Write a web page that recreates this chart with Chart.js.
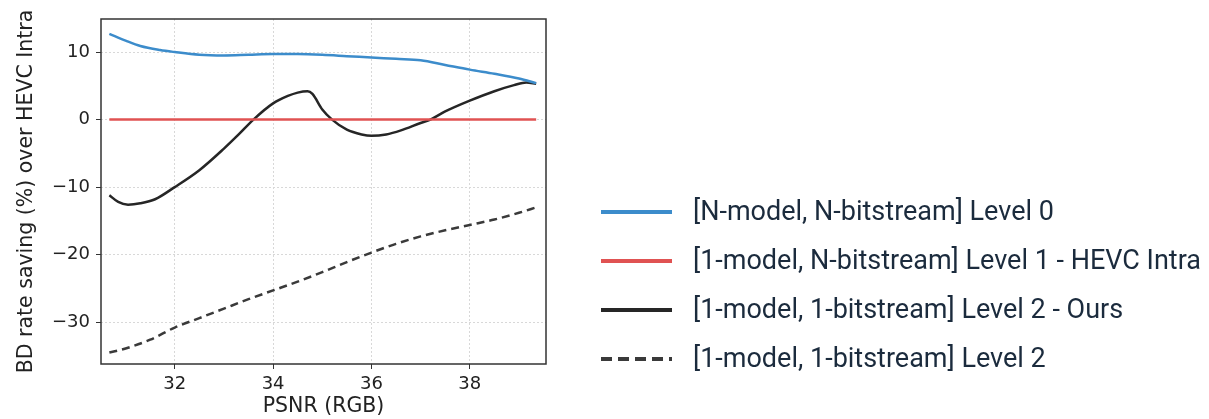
<!DOCTYPE html>
<html><head><meta charset="utf-8">
<script src="https://cdn.jsdelivr.net/npm/chart.js@4/dist/chart.umd.min.js"></script>
<style>html,body{margin:0;padding:0;background:#fff;}#wrap{width:1209px;height:419px;position:relative;}</style>
</head><body><div id="wrap"><canvas id="c" width="1209" height="419"></canvas></div>
<script>
const seriesLabels = [
  "[N-model, N-bitstream] Level 0",
  "[1-model, N-bitstream] Level 1 - HEVC Intra",
  "[1-model, 1-bitstream] Level 2 - Ours",
  "[1-model, 1-bitstream] Level 2"
];
const level0Psnr = [30.67,31.0,31.3,31.7,32.0,32.5,33.0,33.5,34.0,34.5,35.0,35.5,36.0,36.5,37.0,37.5,38.0,38.5,39.0,39.35];
const level0Vals = [12.7,11.7,10.9,10.3,10.0,9.6,9.5,9.6,9.7,9.7,9.6,9.4,9.2,9.0,8.8,8.1,7.4,6.8,6.1,5.4];
const level1Psnr = [30.67,39.35];
const level1Vals = [0,0];
const oursPsnr = [30.67,30.85,31.05,31.3,31.6,32.0,32.5,33.0,33.3,33.6,34.0,34.3,34.5,34.7,34.8,35.0,35.2,35.5,35.8,36.0,36.3,36.6,37.0,37.2,37.5,38.0,38.5,38.9,39.15,39.35];
const oursVals = [-11.2,-12.2,-12.6,-12.4,-11.8,-10.0,-7.5,-4.3,-2.2,0.0,2.4,3.5,4.0,4.2,3.8,1.5,0.0,-1.5,-2.2,-2.4,-2.2,-1.6,-0.5,0.0,1.2,2.8,4.2,5.1,5.5,5.3];
const level2Psnr = [30.67,31.0,31.5,32.0,32.5,33.0,33.5,34.0,34.5,35.0,35.5,36.0,36.5,37.0,37.5,38.0,38.5,39.0,39.35];
const level2Vals = [-34.5,-33.9,-32.6,-30.8,-29.4,-28.0,-26.6,-25.3,-24.0,-22.6,-21.1,-19.7,-18.4,-17.3,-16.4,-15.6,-14.8,-13.8,-13.0];
const xTicks = [32,34,36,38];
const yTicks = [-30,-20,-10,0,10];

const pts = (xs, ys) => xs.map((x,i)=>({x:x,y:ys[i]}));
const fmt = v => String(v).replace('-', '\u2212');

const frameAndLegend = {
  id:'frameAndLegend',
  afterDatasetsDraw(chart){
    const ctx = chart.ctx, a = chart.chartArea;
    ctx.save();
    ctx.strokeStyle = '#333'; ctx.lineWidth = 1.5; ctx.setLineDash([]);
    ctx.strokeRect(a.left, a.top, a.right-a.left, a.bottom-a.top);
    const x0 = 601, x1 = 672, tx = 693, ys = [212,261,310,359];
    chart.data.datasets.forEach((ds,i)=>{
      const y = ys[i];
      ctx.beginPath();
      ctx.strokeStyle = ds.borderColor; ctx.lineWidth = 4;
      ctx.setLineDash(ds.borderDash ? [11,6] : []);
      ctx.moveTo(x0,y); ctx.lineTo(x1,y); ctx.stroke();
      ctx.setLineDash([]);
      ctx.fillStyle = '#1b2b3d';
      ctx.font = '27px Roboto, "Liberation Sans", sans-serif';
      ctx.textBaseline = 'middle'; ctx.textAlign = 'left';
      ctx.fillText(ds.label, tx, y+1);
    });
    ctx.restore();
  }
};

const tickFont = {family:'"DejaVu Sans", sans-serif', size:18};
const titleFont = {family:'"DejaVu Sans", sans-serif', size:20.5};
new Chart(document.getElementById('c'), {
  type:'line',
  data:{datasets:[
    {label:seriesLabels[0], data:pts(level0Psnr,level0Vals), borderColor:'#3c8ccb', borderWidth:2.5},
    {label:seriesLabels[1], data:pts(level1Psnr,level1Vals), borderColor:'#e05252', borderWidth:2.5},
    {label:seriesLabels[2], data:pts(oursPsnr,oursVals), borderColor:'#262626', borderWidth:2.5},
    {label:seriesLabels[3], data:pts(level2Psnr,level2Vals), borderColor:'#3a3a3a', borderWidth:2.5, borderDash:[8,5]}
  ]},
  options:{
    responsive:false, animation:false,
    elements:{point:{radius:0}, line:{cubicInterpolationMode:'monotone', fill:false}},
    layout:{padding:{left:14, right:663, top:19, bottom:0}},
    plugins:{legend:{display:false}, tooltip:{enabled:false}},
    scales:{
      x:{type:'linear', min:30.5, max:39.55,
        afterBuildTicks(s){ s.ticks = xTicks.map(v=>({value:v})); },
        afterFit(s){ s.height = 55; },
        ticks:{font:tickFont, color:'#222', padding:5, maxRotation:0, callback:v=>fmt(v)},
        grid:{color:'#d8d8d8', lineWidth:1, tickLength:5, tickColor:'#333', tickBorderDash:[]},
        border:{display:false, dash:[2,2]},
        title:{display:true, text:'PSNR (RGB)', font:titleFont, color:'#222', padding:{top:0,bottom:0}}
      },
      y:{type:'linear', min:-36.2, max:14.9,
        afterBuildTicks(s){ s.ticks = yTicks.map(v=>({value:v})); },
        afterFit(s){ s.width = 87; },
        ticks:{font:tickFont, color:'#222', padding:6, callback:v=>fmt(v)},
        grid:{color:'#d8d8d8', lineWidth:1, tickLength:5, tickColor:'#333', tickBorderDash:[]},
        border:{display:false, dash:[2,2]},
        title:{display:true, text:'BD rate saving (%) over HEVC Intra', font:titleFont, color:'#222', padding:{top:0,bottom:0}}
      }
    }
  },
  plugins:[frameAndLegend]
});
</script></body></html>
